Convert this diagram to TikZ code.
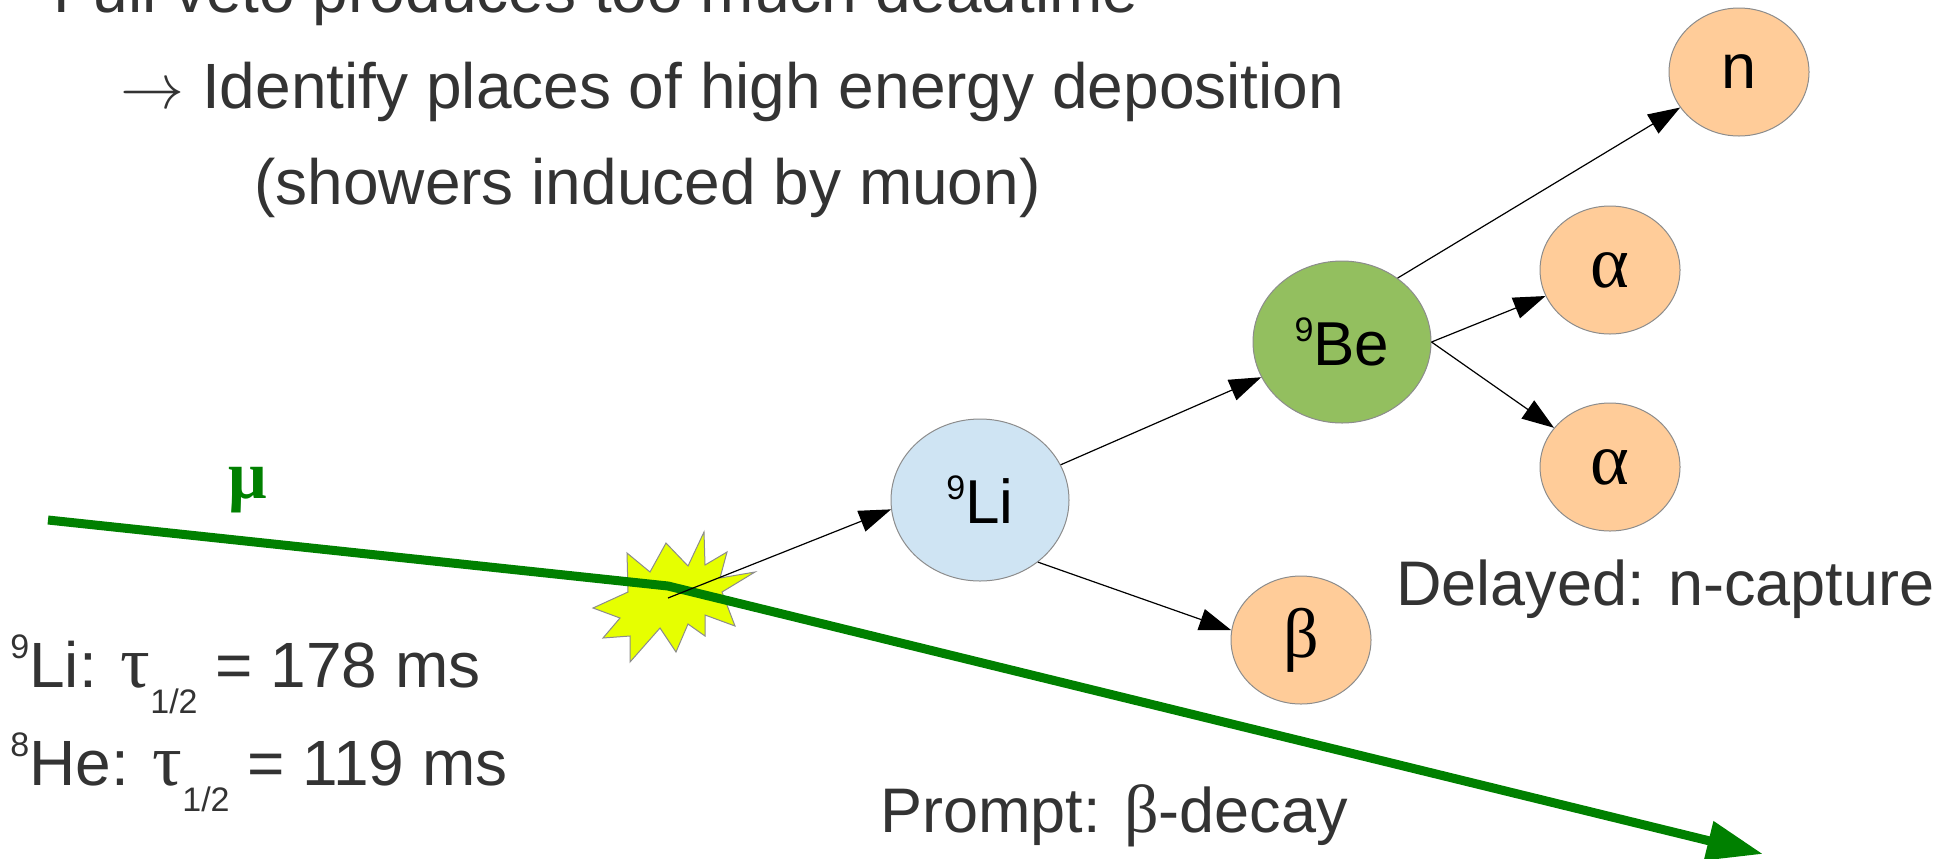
\documentclass[tikz,border=0pt]{standalone}
\usepackage{fix-cm}
\usepackage{fontspec}
\setmainfont{Liberation Sans}
\newfontfamily\greekfont{Liberation Serif}
\usetikzlibrary{shapes.geometric,arrows.meta}
\definecolor{txt}{HTML}{333333}
\definecolor{mugreen}{HTML}{008000}
\definecolor{peach}{HTML}{FFCC99}
\definecolor{liblue}{HTML}{CFE4F3}
\definecolor{begreen}{HTML}{93BF5F}
\definecolor{burst}{HTML}{E6FF00}
\definecolor{edge}{HTML}{8C8C8C}
\begin{document}
\begin{tikzpicture}[x=0.5pt,y=-0.5pt,
  particle/.style={ellipse, draw=edge, line width=0.5pt, fill=peach, minimum width=70pt, minimum height=64pt, inner sep=0pt, text=black, font=\fontsize{31.5}{31.5}\selectfont},
  greekparticle/.style={particle, font=\greekfont\fontsize{37}{37}\selectfont},
  nucleus/.style={ellipse, draw=edge, line width=0.5pt, minimum width=89pt, minimum height=81pt, inner sep=0pt, text=black, font=\fontsize{31}{31}\selectfont},
  decay/.style={draw=black, line width=0.6pt, -{Triangle[length=16pt,width=11pt]}},
  txtlabel/.style={anchor=base west, inner sep=0pt, text=txt, font=\fontsize{31.5}{31.5}\selectfont},
  titletext/.style={txtlabel, font=\fontsize{32}{32}\selectfont},
  burststyle/.style={fill=burst, draw=edge, line width=0.5pt},
  track/.style={draw=mugreen, line width=4.5pt, -{Triangle[length=28pt,width=19pt]}}
]
\useasboundingbox (0,0) rectangle (1954,858);
\clip (0,0) rectangle (1954,858);

% title text
\node[titletext] (t1) at (53,12) {Full veto produces too much deadtime};
\node[titletext] (t2) at (120,108) {$\rightarrow$ Identify places of high energy deposition};
\node[titletext] (t3) at (254,204) {(showers induced by muon)};

% burst
\path[burststyle] (704,532) -- (705,565) -- (727,552) -- (720,578) -- (755,572) -- (722,592) -- (735,626) -- (705,615) -- (705,636) -- (688,624) -- (676,652) -- (660,628) -- (630,662) -- (630,636) -- (603,638) -- (620,618) -- (593,608) -- (628,592) -- (627,553) -- (650,572) -- (666,543) -- (688,566) -- cycle;
\coordinate (burstc) at (668,598);

% muon track
\coordinate (mu0) at (48,520);
\coordinate (hit) at (668,586);
\coordinate (mu1) at (1763,854);
\draw[track] (mu0) -- (hit) -- (mu1);
\node[text=mugreen, font=\greekfont\bfseries\fontsize{34}{34}\selectfont, inner sep=0pt] (mu) at (248,490) {μ};

% particles
\node[nucleus, fill=liblue] (li) at (980,500) {\raisebox{12pt}{\fontsize{17}{17}\selectfont 9}Li};
\node[nucleus, fill=begreen] (be) at (1342,342) {\raisebox{12pt}{\fontsize{17}{17}\selectfont 9}Be};
\node[particle] (n) at (1739,72) {n};
\node[greekparticle] (a1) at (1610,270) {α};
\node[greekparticle] (a2) at (1610,467) {α};
\node[greekparticle, font=\greekfont\fontsize{35}{35}\selectfont] (beta) at (1301,640) {β};

% decays
\draw[decay] (burstc) -- (li.186);
\draw[decay] (li) -- (be);
\draw[decay] (li.-47) -- (beta.172);
\draw[decay] (be.49) -- (n);
\draw[decay] (be.east) -- (a1);
\draw[decay] (be.east) -- (a2);

% annotations
\node[txtlabel, font=\fontsize{32}{32}\selectfont] (li9) at (10,687) {\raisebox{14.5pt}{\fontsize{17}{17}\selectfont 9}Li: {\greekfont\fontsize{37}{37}\selectfont τ}\raisebox{-13pt}{\fontsize{17}{17}\selectfont 1/2} = 178 ms};
\node[txtlabel, font=\fontsize{32}{32}\selectfont] (he8) at (10,785) {\raisebox{14.5pt}{\fontsize{17}{17}\selectfont 8}He: {\greekfont\fontsize{37}{37}\selectfont τ}\raisebox{-13pt}{\fontsize{17}{17}\selectfont 1/2} = 119 ms};
\node[txtlabel] (delayed) at (1396,605) {Delayed: n-capture};
\node[txtlabel] (prompt) at (880,832) {Prompt: {\greekfont\fontsize{34}{34}\selectfont β}-decay};
\end{tikzpicture}
\end{document}
